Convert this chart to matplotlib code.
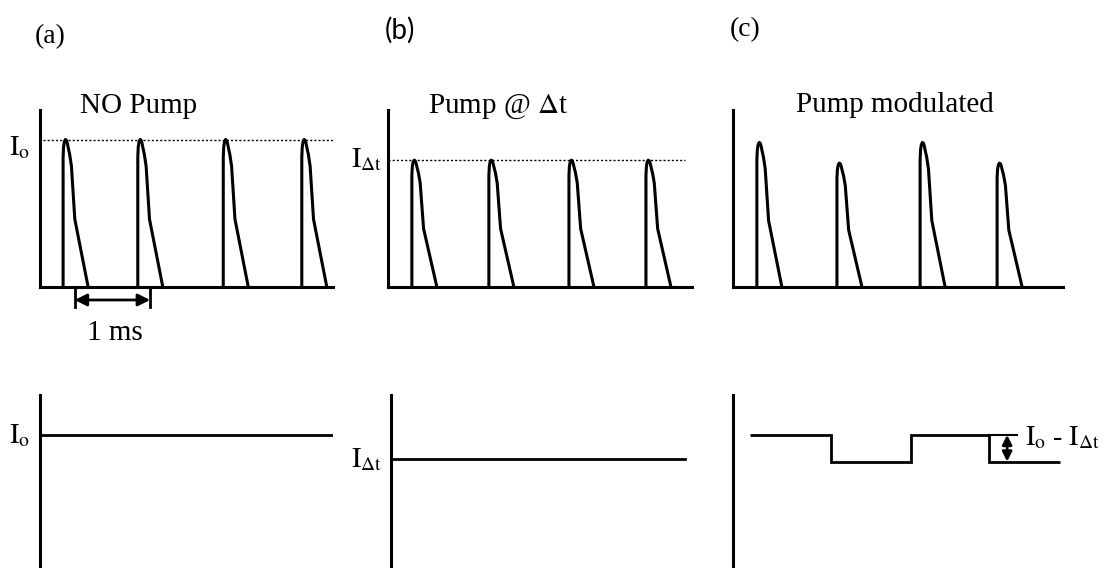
import numpy as np
import matplotlib
matplotlib.use("Agg")
import matplotlib.pyplot as plt

plt.rcParams['font.family'] = ['Liberation Serif', 'DejaVu Serif']
plt.rcParams['mathtext.fontset'] = 'stix'

# pulse template: time after trigger (ms) and relative height
pulse_dt = [0, 0.0, 0.006, 0.016, 0.03, 0.043, 0.055, 0.068, 0.085, 0.108, 0.152, 0.325]
pulse_h = [0, 0.88, 0.95, 0.985, 1.0, 0.995, 0.975, 0.94, 0.90, 0.82, 0.46, 0]

# top row: pulse trains
t_a = [0.30, 1.27, 2.38, 3.40]
amp_a = [1.0, 1.0, 1.0, 1.0]
t_b = [0.31, 1.31, 2.35, 3.35]
amp_b = [0.86, 0.86, 0.86, 0.86]
t_c = [0.31, 1.35, 2.43, 3.43]
amp_c = [0.98, 0.84, 0.98, 0.84]
I_o = 1.0
I_dt = 0.86

# bottom row: averaged signal
dc_a = 1.0
dc_a_end = 3.79
dc_b = 0.82
dc_b_end = 3.82
step_edges = [0.22, 1.27, 2.31, 3.32, 4.25]
step_levels = [1.0, 0.80, 1.0, 0.80]

W, H = 1110, 568
PXMS = 77.0  # pixels per ms

fig = plt.figure(figsize=(W/100., H/100.), dpi=100)

def px_axes(left, top, right, bottom):
    ax = fig.add_axes([left/W, 1-bottom/H, (right-left)/W, (bottom-top)/H])
    ax.set_xlim(0, (right-left)/PXMS)
    for s in ['top', 'right']:
        ax.spines[s].set_visible(False)
    ax.spines['left'].set_linewidth(2.2)
    ax.spines['bottom'].set_linewidth(2.2)
    ax.set_xticks([])
    ax.set_yticks([])
    ax.patch.set_visible(False)
    return ax

def pulses(ax, ts, amps):
    for t0, a in zip(ts, amps):
        ax.plot(t0 + np.array(pulse_dt), a*np.array(pulse_h), color='k', lw=2.2,
                solid_joinstyle='round')

lab = 20

ax1 = px_axes(40, 110, 333, 287)
ax1.set_ylim(0, 1.2)
pulses(ax1, t_a, amp_a)
ax1.plot([0.04, 3.8], [I_o, I_o], color='k', lw=1, ls=(0, (1.5, 1.5)))
ax1.text(-0.13, 0.895, r'$\mathrm{I_o}$', ha='right', va='baseline', fontsize=lab)
ax1.annotate('', xy=(0.45, -0.088), xytext=(1.43, -0.088), xycoords='data',
             arrowprops=dict(arrowstyle='<|-|>', color='k', lw=2, mutation_scale=18,
                             shrinkA=0, shrinkB=0), annotation_clip=False)
ax1.plot([0.45, 0.45], [0, -0.136], color='k', lw=2, clip_on=False)
ax1.plot([1.43, 1.43], [0, -0.136], color='k', lw=2, clip_on=False)
ax1.text(0.97, -0.36, '1 ms', ha='center', va='baseline', fontsize=21)

ax2 = px_axes(388, 110, 692, 287)
ax2.set_ylim(0, 1.2)
pulses(ax2, t_b, amp_b)
ax2.plot([0, 3.86], [I_dt, I_dt], color='k', lw=1, ls=(0, (1.5, 1.5)))
ax2.text(-0.08, 0.81, r'$\mathrm{I_{\Delta t}}$', ha='right', va='baseline', fontsize=lab)

ax3 = px_axes(733, 110, 1063, 287)
ax3.set_ylim(0, 1.2)
pulses(ax3, t_c, amp_c)

# bottom row
ax4 = px_axes(40, 395, 333, 568)
ax4.set_ylim(0, 1.3)
ax4.spines['bottom'].set_visible(False)
ax4.plot([0, dc_a_end], [dc_a, dc_a], color='k', lw=2)
ax4.text(-0.13, 0.94, r'$\mathrm{I_o}$', ha='right', va='baseline', fontsize=lab)

ax5 = px_axes(391, 395, 692, 568)
ax5.set_ylim(0, 1.3)
ax5.spines['bottom'].set_visible(False)
ax5.plot([0, dc_b_end], [dc_b, dc_b], color='k', lw=2)
ax5.text(-0.11, 0.76, r'$\mathrm{I_{\Delta t}}$', ha='right', va='baseline', fontsize=lab)

ax6 = px_axes(733, 395, 1063, 568)
ax6.set_ylim(0, 1.3)
ax6.spines['bottom'].set_visible(False)
ax6.stairs(step_levels, step_edges, baseline=None, color='k', lw=2)
ax6.plot([step_edges[3], 3.69], [step_levels[2], step_levels[2]], color='k', lw=1.5,
         clip_on=False)
ax6.annotate('', xy=(3.56, step_levels[3]), xytext=(3.56, step_levels[2]),
             arrowprops=dict(arrowstyle='<|-|>', color='k', lw=2, mutation_scale=14,
                             shrinkA=0, shrinkB=0), annotation_clip=False)
ax6.text(3.79, 0.92, r'$\mathrm{I_o}$ - $\mathrm{I_{\Delta t}}$', ha='left', va='baseline',
         fontsize=lab, clip_on=False)

# titles and panel letters
fig.text(139/W, 1-113/H, 'NO Pump', ha='center', va='baseline', fontsize=21)
fig.text(498/W, 1-113/H, r'Pump @ $\Delta$t', ha='center', va='baseline', fontsize=21)
fig.text(895/W, 1-112/H, 'Pump modulated', ha='center', va='baseline', fontsize=21)
fig.text(50/W, 1-37/H, '(a)', ha='center', va='center', fontsize=20)
fig.text(400/W, 1-30/H, '(b)', ha='center', va='center', fontsize=20,
         family=['Lato', 'DejaVu Sans'])
fig.text(745/W, 1-30/H, '(c)', ha='center', va='center', fontsize=20)

fig.savefig('out.png', dpi=100)
